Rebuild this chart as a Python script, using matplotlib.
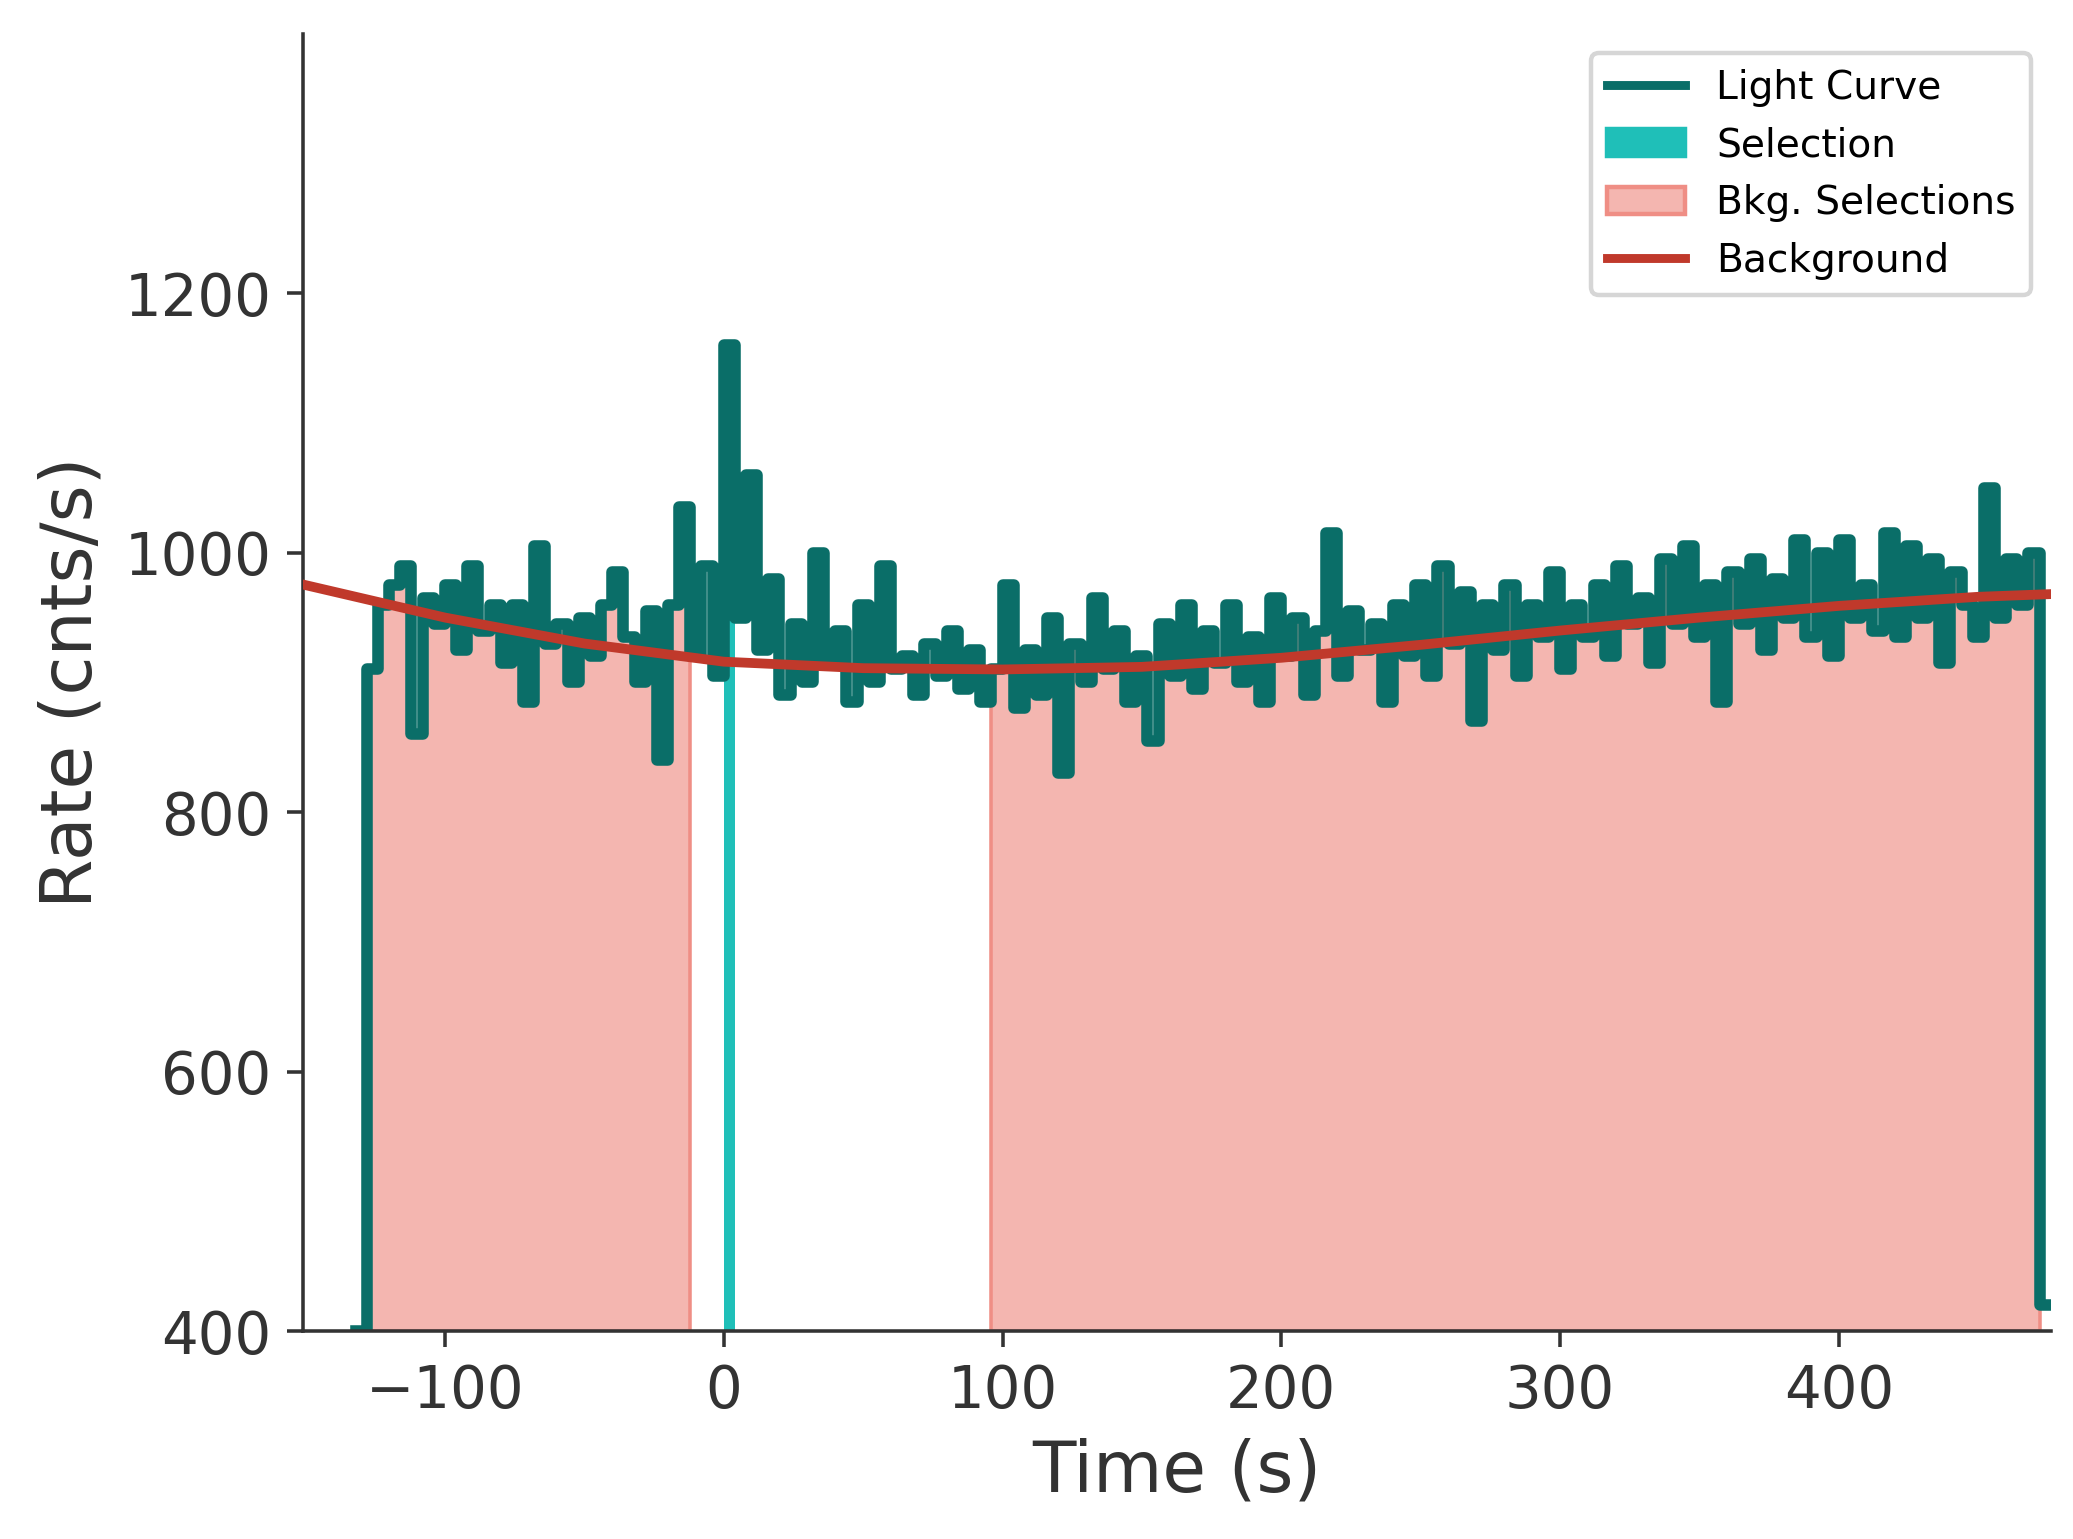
import numpy as np
import matplotlib
matplotlib.use("Agg")
import matplotlib.pyplot as plt

t_start = -132
bin_width = 4
rates = [400, 910, 960, 975, 990, 860, 965, 945, 975, 925, 990, 940, 960, 915, 960, 885, 1005, 930, 945, 900,
         950, 920, 960, 985, 935, 900, 955, 840, 960, 1035, 920, 990, 905, 1160, 950, 1060, 925, 980, 890, 945,
         900, 1000, 915, 940, 885, 960, 900, 990, 910, 920, 890, 930, 905, 940, 895, 925, 885, 910, 975, 880,
         925, 890, 950, 830, 930, 900, 965, 910, 940, 885, 920, 855, 945, 905, 960, 895, 940, 915, 960, 900,
         935, 885, 965, 920, 950, 890, 940, 1015, 905, 955, 925, 945, 885, 960, 920, 975, 905, 990, 930, 970,
         870, 960, 925, 975, 905, 960, 935, 985, 910, 960, 935, 975, 920, 990, 945, 965, 915, 995, 945, 1005,
         935, 975, 885, 985, 945, 995, 925, 980, 950, 1010, 935, 1000, 920, 1010, 950, 975, 940, 1015, 935, 1005,
         950, 995, 915, 985, 960, 935, 1050, 950, 995, 960, 1000, 420]
sel_range = [0, 4]
bkg_ranges = [[-128, -12], [96, 472]]
bkg_t = [-150, -100, -50, 0, 50, 100, 150, 200, 250, 300, 350, 400, 450, 475]
bkg_v = [975, 950, 930, 916, 911, 910, 912, 919, 929, 940, 950, 959, 966, 968]

edges = t_start + bin_width * np.arange(len(rates) + 1)
rates = np.array(rates, float)
vals = np.append(rates, rates[-1])

fig = plt.figure(figsize=(6.48, 4.81), dpi=320)
ax = fig.add_axes([0.146, 0.135, 0.843, 0.843])
dark = "#0a6e68"
for lo, hi in bkg_ranges:
    m = (edges >= lo) & (edges <= hi)
    ax.fill_between(edges[m], 400, vals[m], step="post", color="#f4b6b0", edgecolor="#ef8e85", lw=0.8, zorder=1)
m = (edges >= sel_range[0]) & (edges <= sel_range[1])
ax.fill_between(edges[m], 400, vals[m], step="post", color="#1fbfb8", lw=0, zorder=1)
ax.step(edges, vals, where="post", color=dark, lw=2.6, zorder=2)
ax.plot(bkg_t, bkg_v, color="#c0392b", lw=2.2, zorder=3)

ax.set_xlim(-151, 476)
ax.set_ylim(400, 1400)
ax.set_yticks([400, 600, 800, 1000, 1200])
for s in ["top", "right"]:
    ax.spines[s].set_visible(False)
for s in ["left", "bottom"]:
    ax.spines[s].set_color("#333333")
ax.tick_params(colors="#333333", labelsize=13)
ax.set_xlabel("Time (s)", fontsize=16, color="#333333")
ax.set_ylabel("Rate (cnts/s)", fontsize=16, color="#333333")

from matplotlib.lines import Line2D
from matplotlib.patches import Patch
handles = [Line2D([], [], color=dark, lw=2), Patch(color="#1fbfb8"),
           Patch(facecolor="#f4b6b0", edgecolor="#ef8e85"), Line2D([], [], color="#c0392b", lw=2)]
ax.legend(handles, ["Light Curve", "Selection", "Bkg. Selections", "Background"], loc="upper right", fontsize=8.8)
fig.savefig("out.png", dpi=320)
